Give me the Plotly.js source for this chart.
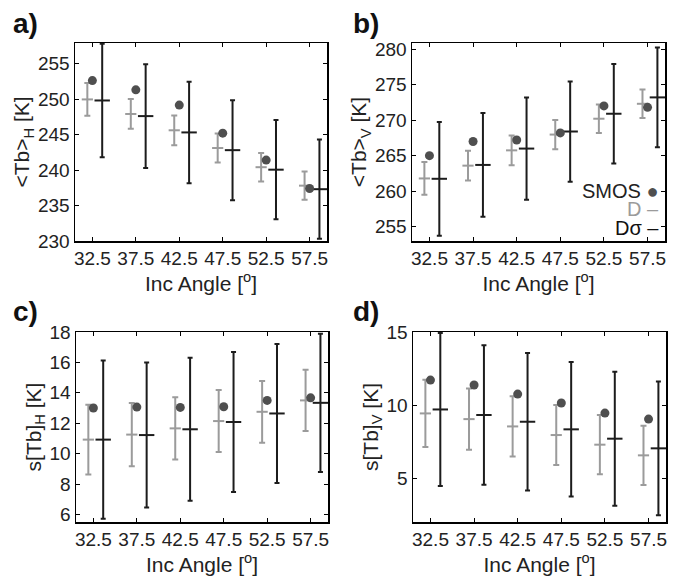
<!DOCTYPE html>
<html>
<head>
<meta charset="utf-8">
<script src="https://cdn.plot.ly/plotly-3.0.1.min.js"></script>
<style>html,body{margin:0;padding:0;background:#fff;}#chart{width:681px;height:577px;}</style>
</head>
<body>
<div id="chart"></div>
<script>
// ---- data ----
const angles = [32.5, 37.5, 42.5, 47.5, 52.5, 57.5];
const angleTickLabels = ['32.5', '37.5', '42.5', '47.5', '52.5', '57.5'];

// panel a: <Tb>_H
const smosH   = [252.6, 251.3, 249.15, 245.2, 241.4, 237.4];
const dH      = [249.95, 247.9, 245.6, 243.1, 240.4, 237.8];
const dHerr   = [2.3, 2.1, 2.1, 2.05, 2.0, 2.0];
const dsH     = [249.8, 247.6, 245.3, 242.8, 240.05, 237.3];
const dsHerr  = [8.0, 7.3, 7.15, 7.05, 7.0, 7.0];

// panel b: <Tb>_V
const smosV   = [265.0, 267.0, 267.2, 268.2, 272.0, 271.8];
const dV      = [261.8, 263.6, 265.75, 267.97, 270.2, 272.3];
const dVerr   = [2.3, 2.1, 2.1, 2.05, 2.0, 2.0];
const dsV     = [261.75, 263.7, 266.0, 268.4, 270.9, 273.2];
const dsVerr  = [8.0, 7.3, 7.2, 7.05, 7.0, 7.0];

// panel c: s[Tb]_H
const smosSH  = [13.0, 13.06, 13.04, 13.08, 13.5, 13.67];
const dSH     = [10.92, 11.25, 11.66, 12.14, 12.75, 13.5];
const dSHerr  = [2.3, 2.08, 2.05, 2.04, 2.03, 2.02];
const dsSH    = [10.92, 11.22, 11.6, 12.08, 12.64, 13.34];
const dsSHerr = [5.2, 4.77, 4.7, 4.6, 4.57, 4.55];

// panel d: s[Tb]_V
const smosSV  = [11.71, 11.37, 10.75, 10.14, 9.45, 9.04];
const dSV     = [9.43, 9.04, 8.54, 7.95, 7.29, 6.56];
const dSVerr  = [2.3, 2.1, 2.06, 2.05, 2.03, 2.02];
const dsSV    = [9.70, 9.32, 8.86, 8.34, 7.7, 7.04];
const dsSVerr = [5.23, 4.77, 4.7, 4.6, 4.58, 4.58];

const yTicksA = [230, 235, 240, 245, 250, 255];
const yTicksB = [255, 260, 265, 270, 275, 280];
const yTicksC = [6, 8, 10, 12, 14, 16, 18];
const yTicksD = [5, 10, 15];

// ---- style ----
const GRAY = '#9b9b9b', BLACK = '#1c1c1c', DOT = '#4f4f4f';
const OFF_D = -0.58, OFF_DS = 1.13;
const FONT = 'Liberation Sans, Arial, Helvetica, sans-serif';

function panel(xa, ya, smos, d, dErr, ds, dsErr) {
  return [
    { x: angles.map(a => a + OFF_D), y: d, xaxis: xa, yaxis: ya, type: 'scatter', mode: 'markers',
      marker: { symbol: 'line-ew', size: 8, line: { color: GRAY, width: 2 } },
      error_y: { type: 'data', array: dErr, visible: true, color: GRAY, thickness: 2, width: 3 },
      hoverinfo: 'skip', showlegend: false },
    { x: angles.map(a => a + OFF_DS), y: ds, xaxis: xa, yaxis: ya, type: 'scatter', mode: 'markers',
      marker: { symbol: 'line-ew', size: 11, line: { color: BLACK, width: 2 } },
      error_y: { type: 'data', array: dsErr, visible: true, color: BLACK, thickness: 2, width: 2.5 },
      hoverinfo: 'skip', showlegend: false },
    { x: angles, y: smos, xaxis: xa, yaxis: ya, type: 'scatter', mode: 'markers',
      marker: { color: DOT, size: 9 }, hoverinfo: 'skip', showlegend: false }
  ];
}

const data = [].concat(
  panel('x', 'y', smosH, dH, dHerr, dsH, dsHerr),
  panel('x2', 'y2', smosV, dV, dVerr, dsV, dsVerr),
  panel('x3', 'y3', smosSH, dSH, dSHerr, dsSH, dsSHerr),
  panel('x4', 'y4', smosSV, dSV, dSVerr, dsSV, dsSVerr)
);

const W = 681, H = 577;
const px = v => v / W, py = v => 1 - v / H;

function xAxis(anchor, x0, x1) {
  return {
    domain: [px(x0), px(x1)], anchor: anchor, range: [30.5, 59.5],
    tickmode: 'array', tickvals: angles, ticktext: angleTickLabels,
    ticks: 'inside', ticklen: 4, tickwidth: 1, tickcolor: '#000',
    showline: true, linecolor: '#000', linewidth: 1.5, mirror: 'ticks',
    showgrid: false, zeroline: false, automargin: false,
    tickfont: { family: FONT, size: 19, color: '#222' },
    title: { text: 'Inc Angle [<sup>o</sup>]', font: { family: FONT, size: 21, color: '#222' }, standoff: 6 }
  };
}
function yAxis(anchor, y0, y1, range, ticks, title) {
  return {
    domain: [py(y1), py(y0)], anchor: anchor, range: range,
    tickmode: 'array', tickvals: ticks,
    ticks: 'inside', ticklen: 4, tickwidth: 1, tickcolor: '#000',
    showline: true, linecolor: '#000', linewidth: 1.5, mirror: 'ticks',
    showgrid: false, zeroline: false, automargin: false,
    tickfont: { family: FONT, size: 19, color: '#222' },
    title: { text: title, font: { family: FONT, size: 21, color: '#222' }, standoff: 2 }
  };
}

const layout = {
  width: W, height: H,
  margin: { l: 0, r: 0, t: 0, b: 0 },
  paper_bgcolor: '#fff', plot_bgcolor: '#fff',
  font: { family: FONT, color: '#222' },
  xaxis:  xAxis('y', 75, 327),
  yaxis:  yAxis('x', 43, 241, [230, 257.9], yTicksA, '&lt;Tb&gt;<sub>H</sub> [K]'),
  xaxis2: xAxis('y2', 412, 665),
  yaxis2: yAxis('x2', 43, 241, [253, 280.85], yTicksB, '&lt;Tb&gt;<sub>V</sub> [K]'),
  xaxis3: xAxis('y3', 76, 328),
  yaxis3: yAxis('x3', 332, 522, [5.5, 18], yTicksC, 's[Tb]<sub>H</sub> [K]'),
  xaxis4: xAxis('y4', 413, 666),
  yaxis4: yAxis('x4', 332, 522, [2, 15], yTicksD, 's[Tb]<sub>V</sub> [K]'),
  annotations: [
    { text: '<b>a)</b>', xref: 'paper', yref: 'paper', x: px(11), y: py(24), xanchor: 'left', yanchor: 'middle', showarrow: false, font: { family: FONT, size: 28, color: '#111' } },
    { text: '<b>b)</b>', xref: 'paper', yref: 'paper', x: px(351), y: py(24), xanchor: 'left', yanchor: 'middle', showarrow: false, font: { family: FONT, size: 28, color: '#111' } },
    { text: '<b>c)</b>', xref: 'paper', yref: 'paper', x: px(11), y: py(311), xanchor: 'left', yanchor: 'middle', showarrow: false, font: { family: FONT, size: 28, color: '#111' } },
    { text: '<b>d)</b>', xref: 'paper', yref: 'paper', x: px(351), y: py(311), xanchor: 'left', yanchor: 'middle', showarrow: false, font: { family: FONT, size: 28, color: '#111' } },
    { text: 'SMOS <span style="color:' + DOT + '">●</span>', xref: 'paper', yref: 'paper', x: px(661), y: py(191), xanchor: 'right', yanchor: 'middle', showarrow: false, font: { family: FONT, size: 20, color: '#222' } },
    { text: 'D –', xref: 'paper', yref: 'paper', x: px(661), y: py(209), xanchor: 'right', yanchor: 'middle', showarrow: false, font: { family: FONT, size: 20, color: GRAY } },
    { text: 'Dσ –', xref: 'paper', yref: 'paper', x: px(661), y: py(228), xanchor: 'right', yanchor: 'middle', showarrow: false, font: { family: FONT, size: 20, color: '#111' } }
  ]
};

Plotly.newPlot('chart', data, layout, { displayModeBar: false, staticPlot: true });
</script>
</body>
</html>
